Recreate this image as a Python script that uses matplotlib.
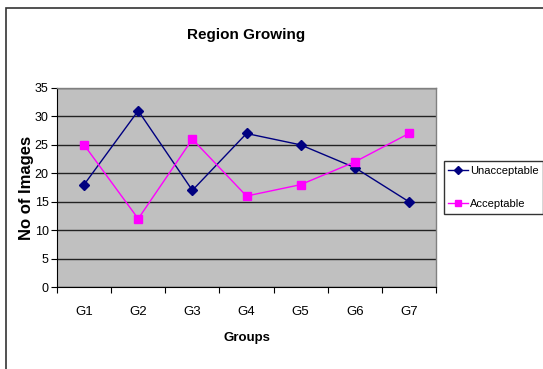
import matplotlib
matplotlib.use("Agg")
import matplotlib.pyplot as plt
from matplotlib.patches import Rectangle
import numpy as np

plt.rcParams['font.family'] = ['Liberation Sans', 'DejaVu Sans']

groups = ["G1", "G2", "G3", "G4", "G5", "G6", "G7"]
unacceptable = [18, 31, 17, 27, 25, 21, 15]
acceptable = [25, 12, 26, 16, 18, 22, 27]
y_ticks = [0, 5, 10, 15, 20, 25, 30, 35]

W, H = 543, 369
fig = plt.figure(figsize=(W / 100, H / 100), dpi=100)
fig.patch.set_facecolor("white")

# outer chart frame
fig.patches.append(Rectangle((6 / W, -0.02), 1.1, (H - 8) / H + 0.02,
                             transform=fig.transFigure, fill=False,
                             edgecolor="#333333", linewidth=1.2))

left, right, top, bottom = 57, 436, 88, 287
ax = fig.add_axes([left / W, 1 - bottom / H, (right - left) / W, (bottom - top) / H])
ax.set_facecolor("#C0C0C0")

x = np.arange(len(groups))
ax.plot(x, unacceptable, color="#000080", marker="D", markersize=5,
        linewidth=1, label="Unacceptable")
ax.plot(x, acceptable, color="#FF00FF", marker="s", markersize=5.5,
        linewidth=1, label="Acceptable")

ax.set_xlim(-0.5, len(groups) - 0.5)
ax.set_ylim(0, 35)
ax.set_yticks(y_ticks)
ax.set_yticklabels([str(v) for v in y_ticks], fontsize=9)
ax.yaxis.grid(True, color="#222222", linewidth=1)
ax.set_axisbelow(True)

# category labels centered, tick marks on category boundaries
ax.set_xticks(np.arange(len(groups) + 1) - 0.5)
ax.set_xticklabels([])
ax.set_xticks(x, minor=True)
ax.set_xticklabels(groups, minor=True, fontsize=9.5)
ax.tick_params(axis="x", which="minor", length=0, pad=14)
ax.tick_params(axis="x", which="major", length=4, direction="out", color="black")
ax.tick_params(axis="y", length=4, direction="out", color="black", pad=2)

for side in ["top", "right"]:
    ax.spines[side].set_color("#808080")
    ax.spines[side].set_linewidth(1)
ax.spines["left"].set_color("black")
ax.spines["bottom"].set_color("black")

ax.set_xlabel("Groups", fontsize=9.5, fontweight="bold", labelpad=10)
ax.set_ylabel("No of Images", fontsize=12, fontweight="bold")
ax.yaxis.set_label_coords((34 - left) / (right - left), 0.5)

fig.text((left + right) / 2 / W, 1 - 35 / H, "Region Growing",
         ha="center", va="center", fontsize=11, fontweight="bold")

leg = ax.legend(loc="center left", bbox_to_anchor=(444 / W, 1 - 187.5 / H),
                bbox_transform=fig.transFigure, fontsize=8, frameon=True,
                fancybox=False, edgecolor="black", handlelength=1.8,
                handletextpad=0.15, borderpad=0.4, labelspacing=2.1,
                markerscale=0.8, borderaxespad=0)
leg.get_frame().set_linewidth(1)

fig.savefig("out.png", dpi=100)
